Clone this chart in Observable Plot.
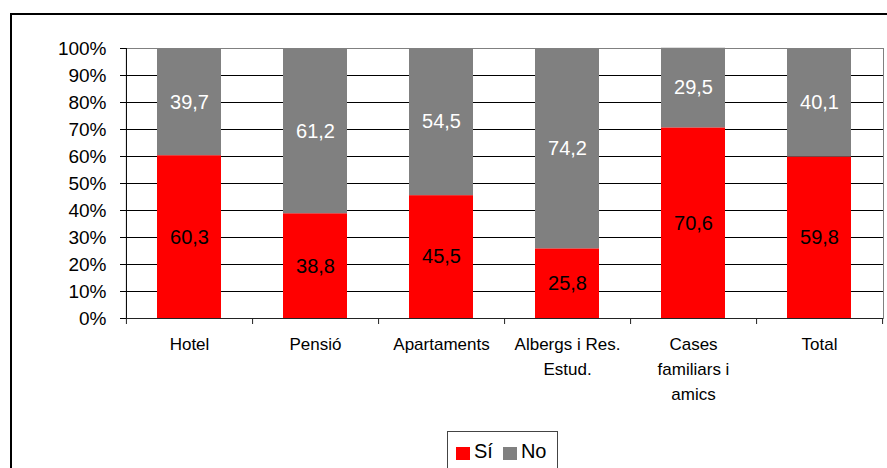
<!DOCTYPE html>
<html>
<head>
<meta charset="utf-8">
<script src="https://cdn.jsdelivr.net/npm/d3@7"></script>
<script src="https://cdn.jsdelivr.net/npm/@observablehq/plot@0.6"></script>
<style>
  html, body { margin: 0; padding: 0; background: #fff; }
  body { width: 887px; height: 468px; overflow: hidden; position: relative; font-family: "Liberation Sans", Arial, sans-serif; }
  #border { position: absolute; left: 10px; top: 13px; width: 900px; height: 500px; border-top: 2px solid #000; border-left: 2px solid #000; }
  #chart { position: relative; }
  #legend { position: relative; margin-left: 447px; margin-top: 6px; width: 111px; height: 60px; box-sizing: border-box;
            border: 1px solid #444; background: #fff; display: flex; align-items: flex-start; padding: 9px 0 0 8px; font-size: 20px; line-height: 20px; color: #000; }
  #legend .sw { width: 14px; height: 13px; margin-top: 6px; margin-right: 4px; }
  #legend .item { display: flex; align-items: flex-start; margin-right: 10px; }
</style>
</head>
<body>
<div id="border"></div>
<div id="chart"></div>
<div id="legend"></div>
<script>
const categories = ["Hotel", "Pensió", "Apartaments", "Albergs i Res.\nEstud.", "Cases\nfamiliars i\namics", "Total"];
const series = ["Sí", "No"];
const siValues = [60.3, 38.8, 45.5, 25.8, 70.6, 59.8];
const noValues = [39.7, 61.2, 54.5, 74.2, 29.5, 40.1];
const yTicks = [0, 10, 20, 30, 40, 50, 60, 70, 80, 90, 100];
const colors = ["#FF0000", "#808080"];

const data = [];
categories.forEach((c, i) => {
  data.push({cat: c, serie: "Sí", value: siValues[i]});
  data.push({cat: c, serie: "No", value: noValues[i]});
});

const W = 887, H = 425, mL = 126, mR = 4, mT = 48, mB = 107;
const step = (W - mL - mR) / categories.length;
const fmt = v => v.toFixed(1).replace(".", ",");

const plot = Plot.plot({
  width: W, height: H,
  marginLeft: mL, marginRight: mR, marginTop: mT, marginBottom: mB,
  style: {fontFamily: "'Liberation Sans', Arial, sans-serif", background: "transparent", color: "#000"},
  x: {domain: categories, paddingInner: 0.49, paddingOuter: 0.245, label: null},
  y: {domain: [0, 100], label: null},
  color: {domain: series, range: colors},
  marks: [
    Plot.frame({stroke: "#808080"}),
    Plot.ruleY(yTicks.filter(d => d > 0 && d < 100), {stroke: "#000"}),
    Plot.barY(data, Plot.stackY({x: "cat", y: "value", z: "serie", fill: "serie"})),
    Plot.text(data, Plot.stackY({x: "cat", y: "value", z: "serie",
      text: d => d.serie === "Sí" ? fmt(d.value) : "", fill: "#000", fontSize: 20})),
    Plot.text(data, Plot.stackY({x: "cat", y: "value", z: "serie",
      text: d => d.serie === "No" ? fmt(d.value) : "", fill: "#fff", fontSize: 20})),
    Plot.ruleY([0], {stroke: "#222"}),
    Plot.ruleX([categories[0]], {dx: -step / 2, stroke: "#000"}),
    Plot.axisY({ticks: yTicks, tickFormat: d => d + "%", tickSize: 6, tickPadding: 14, fontSize: 19, stroke: "#000", fill: "#000"}),
    Plot.axisX({tickSize: 6, dx: step / 2, tickFormat: () => "", stroke: "#222"}),
    Plot.axisX({ticks: [categories[0]], tickSize: 6, dx: -step / 2, tickFormat: () => "", stroke: "#222"}),
    Plot.axisX({tickSize: 0, tickPadding: 14, fontSize: 17, lineHeight: 1.47, fill: "#000"})
  ]
});
document.getElementById("chart").appendChild(plot);

const legend = document.getElementById("legend");
series.forEach((s, i) => {
  const item = document.createElement("div");
  item.className = "item";
  const sw = document.createElement("div");
  sw.className = "sw";
  sw.style.background = colors[i];
  const t = document.createElement("span");
  t.textContent = s;
  item.appendChild(sw);
  item.appendChild(t);
  legend.appendChild(item);
});
</script>
</body>
</html>
